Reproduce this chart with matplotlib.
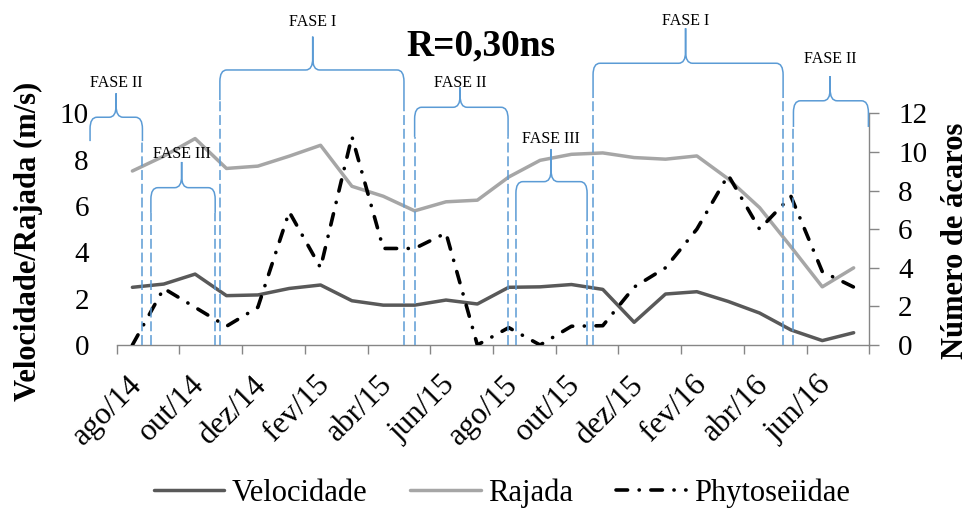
import numpy as np
import matplotlib
matplotlib.use('Agg')
import matplotlib.pyplot as plt
from matplotlib.path import Path
from matplotlib.patches import PathPatch
from matplotlib.transforms import blended_transform_factory, ScaledTranslation

plt.rcParams['font.family'] = ['Liberation Serif', 'DejaVu Serif']

# ---------------- data ----------------
months = ['ago/14', 'set/14', 'out/14', 'nov/14', 'dez/14', 'jan/15', 'fev/15', 'mar/15',
          'abr/15', 'mai/15', 'jun/15', 'jul/15', 'ago/15', 'set/15', 'out/15', 'nov/15',
          'dez/15', 'jan/16', 'fev/16', 'mar/16', 'abr/16', 'mai/16', 'jun/16', 'jul/16']
velocidade = [2.49, 2.63, 3.06, 2.13, 2.16, 2.44, 2.59, 1.91, 1.72, 1.72, 1.94, 1.77,
              2.49, 2.51, 2.61, 2.40, 0.98, 2.20, 2.30, 1.88, 1.38, 0.65, 0.19, 0.53]
rajada = [7.51, 8.15, 8.91, 7.62, 7.72, 8.15, 8.62, 6.85, 6.42, 5.79, 6.18, 6.25,
          7.25, 7.97, 8.23, 8.29, 8.09, 8.02, 8.16, 7.17, 5.93, 4.24, 2.51, 3.33]
phyto = [0.0, 2.93, 1.95, 0.97, 1.95, 6.9, 4.0, 10.8, 5.0, 5.0, 5.8, 0.0,
         0.9, 0.0, 0.97, 1.0, 3.0, 4.0, 6.0, 8.8, 6.0, 7.7, 3.8, 3.0]
tick_labels = months[::2]
left_ticks = [0, 2, 4, 6, 8, 10]
right_ticks = [0, 2, 4, 6, 8, 10, 12]

# phase annotations (x in category units, y in axes fraction)
phase_names = ['FASE II', 'FASE III', 'FASE I', 'FASE II', 'FASE III', 'FASE I', 'FASE II']
phase_start = [-1.35, 0.59, 2.79, 9.00, 12.23, 14.69, 21.08]
phase_end = [0.32, 2.64, 8.66, 11.98, 14.50, 20.75, 23.47]
phase_center = [-0.52, 1.57, 5.75, 10.45, 13.35, 17.64, 22.25]
brace_top = [0.983, 0.679, 1.187, 1.026, 0.705, 1.216, 1.054]
brace_tip = [1.086, 0.790, 1.331, 1.112, 0.846, 1.367, 1.161]
brace_end_l = [0.880, 0.570, 1.057, 0.898, 0.539, 1.066, 0.941]
brace_end_r = [0.880, 0.570, 1.014, 0.898, 0.539, 1.066, 0.941]
label_y = [1.132, 0.824, 1.395, 1.132, 0.888, 1.399, 1.233]
dash_l = [False, True, True, True, True, True, True]
dash_r = [True, True, True, True, True, True, False]

# ---------------- figure ----------------
fig = plt.figure(figsize=(9.71, 5.09), dpi=100)
ax = fig.add_axes([0.1202, 0.3222, 0.7751, 0.4552])
ax2 = ax.twinx()

x = np.arange(len(months))
l1, = ax.plot(x, velocidade, color='#595959', lw=2.5, solid_joinstyle='round',
              solid_capstyle='round', label='Velocidade')
l2, = ax.plot(x, rajada, color='#A6A6A6', lw=2.5, solid_joinstyle='round',
              solid_capstyle='round', label='Rajada')
l3, = ax2.plot(x, phyto, color='black', lw=2.6, dashes=(3.2, 3.2, 0.05, 3.2),
               dash_capstyle='round', dash_joinstyle='round', label='Phytoseiidae')

blue = '#5B9BD5'
trans = blended_transform_factory(ax2.transData, ax2.transAxes)
rx, cv = 0.22, 0.05
for i, name in enumerate(phase_names):
    x0, x1, xc = phase_start[i], phase_end[i], phase_center[i]
    top, tip = brace_top[i], brace_tip[i]
    yl, yr = brace_end_l[i], brace_end_r[i]
    verts = [(x0, yl), (x0, top - cv), (x0, top), (x0 + rx, top), (xc - rx, top),
             (xc, top), (xc, top + cv), (xc, tip), (xc, top + cv), (xc, top),
             (xc + rx, top), (x1 - rx, top), (x1, top), (x1, top - cv), (x1, yr)]
    codes = [Path.MOVETO, Path.LINETO, Path.CURVE3, Path.CURVE3, Path.LINETO,
             Path.CURVE3, Path.CURVE3, Path.LINETO, Path.LINETO, Path.CURVE3,
             Path.CURVE3, Path.LINETO, Path.CURVE3, Path.CURVE3, Path.LINETO]
    ax2.add_patch(PathPatch(Path(verts, codes), fill=False, edgecolor=blue, lw=1.1,
                            transform=trans, clip_on=False, zorder=5))
    if dash_l[i]:
        ax2.plot([x0, x0], [0, yl], transform=trans, color=blue, lw=1.1,
                 dashes=(6.5, 2.5), clip_on=False, zorder=5)
    if dash_r[i]:
        ax2.plot([x1, x1], [0, yr], transform=trans, color=blue, lw=1.1,
                 dashes=(6.5, 2.5), clip_on=False, zorder=5)
    ax2.text(xc, label_y[i], name, transform=trans, ha='center', va='center',
             fontsize=11.5, clip_on=False, zorder=6)

# limits and ticks
ax.set_xlim(-0.5, len(months) - 0.5)
ax.set_ylim(0, 10)
ax2.set_ylim(0, 12)
ax.set_yticks(left_ticks)
ax2.set_yticks(right_ticks)
ax.set_xticks(np.arange(-0.5, len(months), 2))
ax.set_xticks(x[::2], tick_labels, minor=True)

gray = '#868686'
ax.tick_params(axis='x', which='major', length=6.5, width=1, color=gray, labelbottom=False)
ax.tick_params(axis='x', which='minor', length=0, pad=25.5, labelsize=22.5)
for lab in ax.get_xticklabels(minor=True):
    lab.set_rotation(45)
    lab.set_ha('right')
    lab.set_va('center')
    lab.set_rotation_mode('anchor')
    lab.set_transform(lab.get_transform() + ScaledTranslation(3.5 / 72, 0, fig.dpi_scale_trans))
ax.tick_params(axis='y', length=0, pad=20, labelsize=21)
ax2.tick_params(axis='y', length=7, width=1, color=gray, pad=13.7, labelsize=21)

for s in ['left', 'top', 'right']:
    ax.spines[s].set_visible(False)
ax.spines['bottom'].set_color(gray)
ax.spines['bottom'].set_linewidth(1)
for s in ['left', 'top', 'bottom']:
    ax2.spines[s].set_visible(False)
ax2.spines['right'].set_color(gray)
ax2.spines['right'].set_linewidth(1)

fig.text(28 / 971, 1 - 241 / 509, 'Velocidade/Rajada (m/s)', rotation=90, ha='center',
         va='center', fontsize=22, fontweight='bold')
fig.text(955 / 971, 1 - 241 / 509, 'Número de ácaros', rotation=90, ha='center',
         va='center', fontsize=22, fontweight='bold')
fig.text(481 / 971, 1 - 55 / 509, 'R=0,30ns', ha='center', va='baseline',
         fontsize=27, fontweight='bold')

fig.legend([l1, l2, l3], ['Velocidade', 'Rajada', 'Phytoseiidae'], loc='center',
           bbox_to_anchor=(502 / 971, 1 - 493 / 509), ncol=3, frameon=False, fontsize=22,
           handlelength=2.3, handletextpad=0.25, columnspacing=1.4)

fig.savefig('out.png', dpi=100)
